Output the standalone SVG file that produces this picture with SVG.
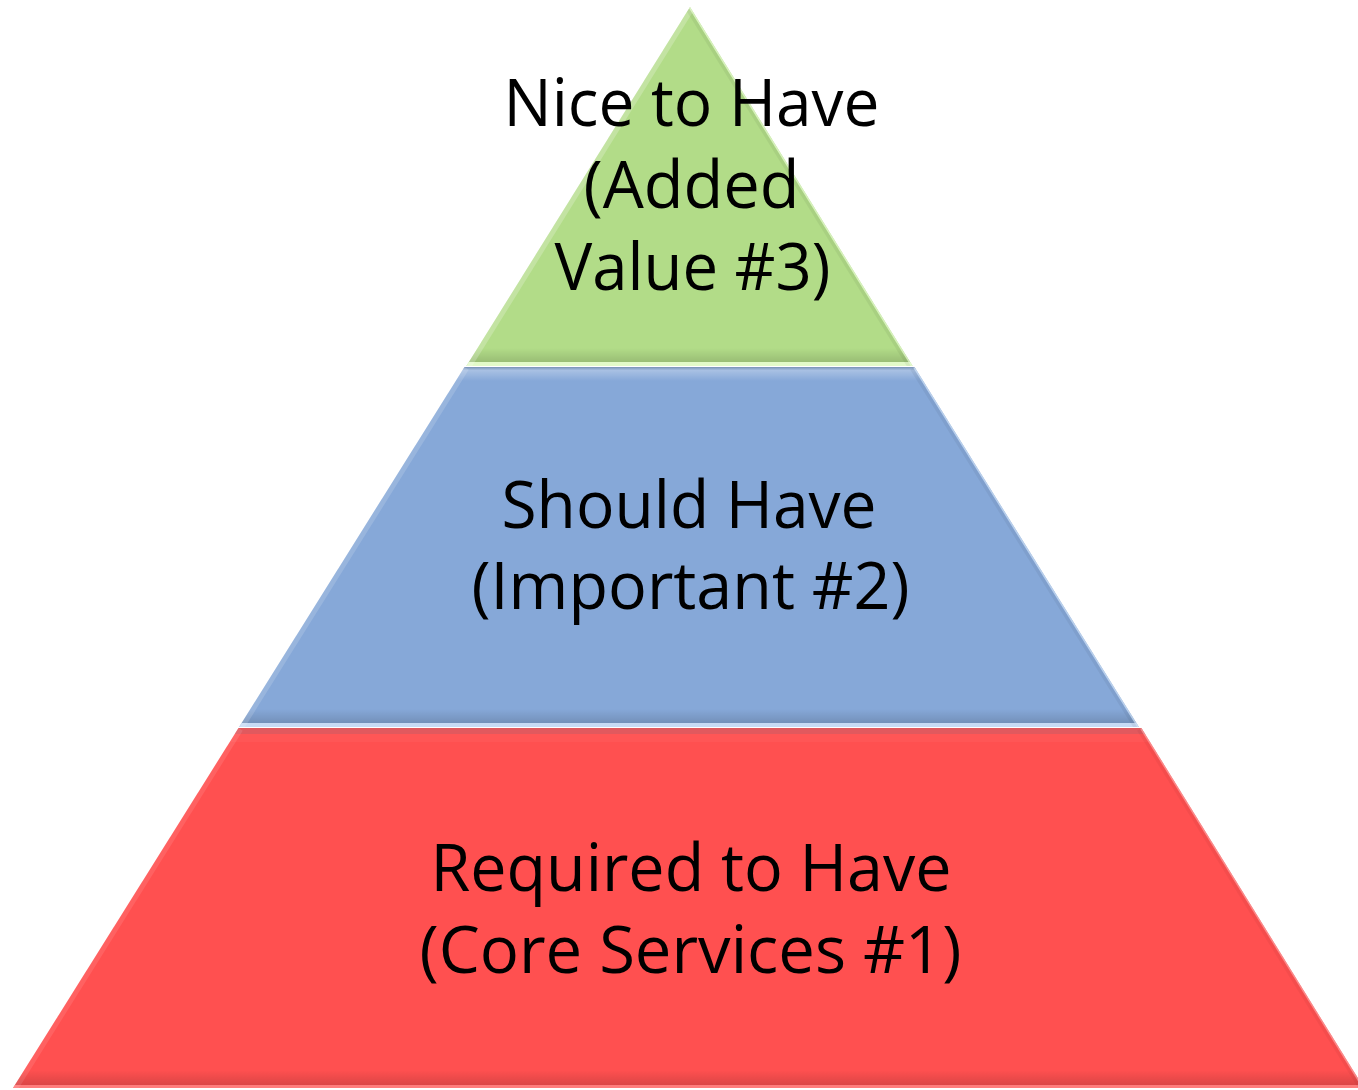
<svg xmlns="http://www.w3.org/2000/svg" width="1358" height="1090" viewBox="0 0 1358 1090">
  <style>
    .label { font-family: "Open Sans", "Liberation Sans", sans-serif; font-size: 65px; fill: #000; text-anchor: middle; }
    .side { fill: none; stroke-width: 10; }
  </style>
  <defs>
    <!-- bevel: light band at the top of each tier -->
    <linearGradient id="topLight" x1="0" y1="0" x2="0" y2="1">
      <stop offset="0" stop-color="#5a6470" stop-opacity="0.35"/>
      <stop offset="0.25" stop-color="#ffffff" stop-opacity="0.28"/>
      <stop offset="1" stop-color="#ffffff" stop-opacity="0"/>
    </linearGradient>
    <!-- bevel: dark band at the bottom of each tier -->
    <linearGradient id="bottomDark" x1="0" y1="0" x2="0" y2="1">
      <stop offset="0" stop-color="#000000" stop-opacity="0"/>
      <stop offset="1" stop-color="#000000" stop-opacity="0.14"/>
    </linearGradient>

    <clipPath id="clipTop"><polygon points="690,7 912.6,366 466.4,366"/></clipPath>
    <clipPath id="clipMid"><polygon points="464.5,367 914.5,367 1138.9,727 239.1,727"/></clipPath>
    <clipPath id="clipBase"><polygon points="238.5,728 1141.4,728 1364,1088 13,1088"/></clipPath>
  </defs>

  <!-- Tier 3: Nice to Have -->
  <g id="tier-nice-to-have">
    <polygon points="690,7 912.6,366 466.4,366" fill="#B2DC88"/>
    <g clip-path="url(#clipTop)">
      <rect x="0" y="348" width="1358" height="14" fill="url(#bottomDark)"/>
      <rect x="0" y="362" width="1358" height="4" fill="#EAFFD4" opacity="0.85"/>
      <line class="side" x1="690" y1="7" x2="466.4" y2="366" stroke="#ffffff" stroke-opacity="0.22"/>
      <line class="side" x1="690" y1="7" x2="912.6" y2="366" stroke="#000000" stroke-opacity="0.05"/>
      <line x1="690" y1="7" x2="912.6" y2="366" stroke="#EAFFD4" stroke-width="3" stroke-opacity="0.7"/>
    </g>
    <text class="label" x="691.5" y="126" textLength="376" lengthAdjust="spacingAndGlyphs">Nice to Have</text>
    <text class="label" x="691.5" y="208" textLength="216" lengthAdjust="spacingAndGlyphs">(Added</text>
    <text class="label" x="692.5" y="290" textLength="276" lengthAdjust="spacingAndGlyphs">Value #3)</text>
  </g>

  <!-- Tier 2: Should Have -->
  <g id="tier-should-have">
    <polygon points="464.5,367 914.5,367 1138.9,727 239.1,727" fill="#86A8D8"/>
    <g clip-path="url(#clipMid)">
      <rect x="0" y="367" width="1358" height="14" fill="url(#topLight)"/>
      <rect x="0" y="709" width="1358" height="14" fill="url(#bottomDark)"/>
      <rect x="0" y="723" width="1358" height="4" fill="#D2E4FA" opacity="0.85"/>
      <line class="side" x1="464.5" y1="367" x2="239.1" y2="727" stroke="#ffffff" stroke-opacity="0.15"/>
      <line class="side" x1="914.5" y1="367" x2="1138.9" y2="727" stroke="#000000" stroke-opacity="0.05"/>
      <line x1="914.5" y1="367" x2="1138.9" y2="727" stroke="#D2E4FA" stroke-width="3" stroke-opacity="0.7"/>
    </g>
    <text class="label" x="689" y="528" textLength="375" lengthAdjust="spacingAndGlyphs">Should Have</text>
    <text class="label" x="690.5" y="609" textLength="438" lengthAdjust="spacingAndGlyphs">(Important #2)</text>
  </g>

  <!-- Tier 1: Required to Have -->
  <g id="tier-required-to-have">
    <polygon points="238.5,728 1141.4,728 1364,1088 13,1088" fill="#FF5050"/>
    <g clip-path="url(#clipBase)">
      <rect x="0" y="728" width="1358" height="6" fill="#9a7080" opacity="0.3"/>
      <rect x="0" y="734" width="1358" height="8" fill="#ffffff" opacity="0.04"/>
      <rect x="0" y="1070" width="1358" height="15" fill="url(#bottomDark)"/>
      <rect x="0" y="1085" width="1358" height="3" fill="#FF9A9A" opacity="0.6"/>
      <line class="side" x1="238.5" y1="728" x2="13" y2="1088" stroke="#ffffff" stroke-opacity="0.1"/>
      <line class="side" x1="1141.4" y1="728" x2="1364" y2="1088" stroke="#000000" stroke-opacity="0.04"/>
      <line x1="1141.4" y1="728" x2="1364" y2="1088" stroke="#FFB0B0" stroke-width="3" stroke-opacity="0.6"/>
    </g>
    <text class="label" x="691" y="891" textLength="521" lengthAdjust="spacingAndGlyphs">Required to Have</text>
    <text class="label" x="690.5" y="973" textLength="542" lengthAdjust="spacingAndGlyphs">(Core Services #1)</text>
  </g>

  <!-- no connectors in this diagram -->
  <g id="connectors"/>
</svg>
